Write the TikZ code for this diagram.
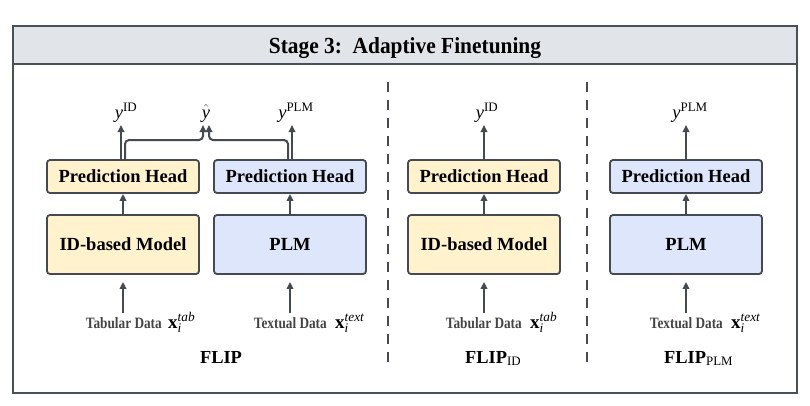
\documentclass[tikz,border=0pt]{standalone}
\usepackage{fontspec}
\setmainfont{Liberation Serif}
\newfontfamily\condserif[FakeStretch=0.84]{Liberation Serif}
\newfontfamily\titleserif[FakeStretch=0.93]{Liberation Serif}
\usetikzlibrary{arrows.meta}
\definecolor{frameC}{HTML}{4A4F58}
\definecolor{headC}{HTML}{E1E4E9}
\definecolor{yelC}{HTML}{FFF2CC}
\definecolor{bluC}{HTML}{DEE6FC}
\definecolor{lineC}{HTML}{454A52}
\definecolor{txtC}{HTML}{444444}
\begin{document}
\begin{tikzpicture}[x=1pt,y=-1pt,
 box/.style={draw=lineC, line width=1.8pt, rounded corners=3pt, minimum width=152pt, font=\fontsize{18.5}{20}\selectfont\bfseries, inner sep=0pt},
 phbox/.style={box, minimum height=33pt},
 mbox/.style={box, minimum height=59pt},
 arr/.style={draw=lineC, line width=2pt, -{Triangle[length=7pt,width=6.5pt]}},
 outlbl/.style={anchor=base, inner sep=0pt, font=\fontsize{18.5}{20}\selectfont},
 inlbl/.style={anchor=base east, font=\condserif\fontsize{15.8}{17}\selectfont\bfseries, text=txtC, inner sep=0pt},
 vlbl/.style={anchor=base west, font=\fontsize{19}{20}\selectfont, inner sep=0pt},
 ttl/.style={font=\fontsize{18.4}{20}\selectfont\bfseries, inner sep=0pt},
 sep/.style={draw=lineC, line width=1.5pt, dash pattern=on 10pt off 8pt}
]
\useasboundingbox (0,0) rectangle (810,405);
\path[fill=headC] (13,26) rectangle (797,64);
\draw[line width=2pt, draw=frameC] (13,26) rectangle (797,393);
\draw[line width=2pt, draw=frameC] (13,64) -- (797,64);
\node[font=\titleserif\fontsize{23}{25}\selectfont\bfseries, inner sep=0pt, anchor=base] (title) at (405,53) {Stage 3:\ \ Adaptive Finetuning};

% separators
\coordinate (s1a) at (388,82); \coordinate (s1b) at (388,366);
\coordinate (s2a) at (587,82); \coordinate (s2b) at (587,366);
\draw[sep] (s1a) -- (s1b);
\draw[sep] (s2a) -- (s2b);

% ===== FLIP panel
\node[phbox, fill=yelC] (lph) at (123,176.5) {Prediction Head};
\node[phbox, fill=bluC] (rph) at (290,176.5) {Prediction Head};
\node[mbox, fill=yelC] (lm) at (123,244.5) {ID-based Model};
\node[mbox, fill=bluC] (rm) at (290,244.5) {PLM};

\node[outlbl] (lyid) at (126,118) {$\mathit{y}^{\mathrm{ID}}$};
\node[outlbl] (yhat) at (206,118) {$\hat{\mathit{y}}$};
\node[outlbl] (ryplm) at (296,118) {$\mathit{y}^{\mathrm{PLM}}$};

\coordinate (la) at (121,125);
\coordinate (ra) at (292,125);
\coordinate (ha) at (203,125);
\coordinate (hb) at (209,125);
\draw[arr] ([xshift=-2pt]lph.north) -- (la);
\draw[arr] ([xshift=2pt]rph.north) -- (ra);
\draw[arr, rounded corners=4pt] ([xshift=2pt]lph.north) |- (166,140) -| (ha);
\draw[arr, rounded corners=4pt] ([xshift=-2pt]rph.north) |- (246,140) -| (hb);
\draw[arr] (lm) -- (lph);
\draw[arr] (rm) -- (rph);

\coordinate (lin) at (123,313);
\coordinate (rin) at (290,313);
\draw[arr] (lin) -- ([yshift=-7pt]lm.south);
\draw[arr] (rin) -- ([yshift=-7pt]rm.south);

\node[inlbl] (ltab) at (162,328) {Tabular Data};
\node[vlbl] (ltabx) at (168,328) {$\mathbf{x}_{\mathit{i}}^{\mathit{tab}}$};
\node[inlbl] (rtext) at (327,328) {Textual Data};
\node[vlbl] (rtextx) at (335,328) {$\mathbf{x}_{\mathit{i}}^{\mathit{text}}$};

\node[ttl, anchor=base] (flip) at (221,363) {FLIP};

% ===== FLIP_ID panel
\node[phbox, fill=yelC] (mph) at (484,176.5) {Prediction Head};
\node[mbox, fill=yelC] (mm) at (484,244.5) {ID-based Model};
\node[outlbl] (myid) at (487,118) {$\mathit{y}^{\mathrm{ID}}$};
\coordinate (ma) at (484,125);
\draw[arr] (mph) -- (ma);
\draw[arr] (mm) -- (mph);
\coordinate (min) at (484,313);
\draw[arr] (min) -- ([yshift=-7pt]mm.south);
\node[inlbl] (mtab) at (522,328) {Tabular Data};
\node[vlbl] (mtabx) at (530,328) {$\mathbf{x}_{\mathit{i}}^{\mathit{tab}}$};
\node[ttl, anchor=base west] (flipid) at (465,363) {FLIP$_{\mathrm{ID}}$};

% ===== FLIP_PLM panel
\node[phbox, fill=bluC] (pph) at (686,176.5) {Prediction Head};
\node[mbox, fill=bluC] (pm) at (686,244.5) {PLM};
\node[outlbl] (pyplm) at (690,118) {$\mathit{y}^{\mathrm{PLM}}$};
\coordinate (pa) at (686,125);
\draw[arr] (pph) -- (pa);
\draw[arr] (pm) -- (pph);
\coordinate (pin) at (686,313);
\draw[arr] (pin) -- ([yshift=-7pt]pm.south);
\node[inlbl] (ptext) at (723,328) {Textual Data};
\node[vlbl] (ptextx) at (731,328) {$\mathbf{x}_{\mathit{i}}^{\mathit{text}}$};
\node[ttl, anchor=base west] (flipplm) at (664,363) {FLIP$_{\mathrm{PLM}}$};
\end{tikzpicture}
\end{document}
